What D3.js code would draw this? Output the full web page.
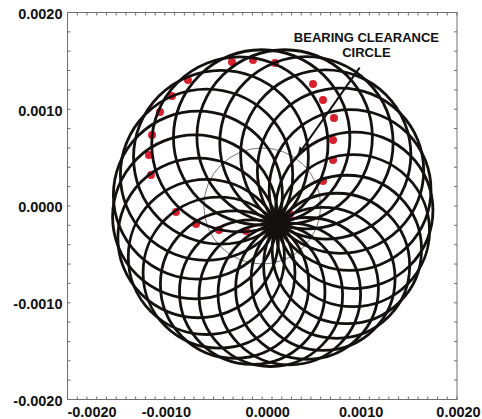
<!DOCTYPE html>
<html>
<head>
<meta charset="utf-8">
<script src="https://cdn.jsdelivr.net/npm/d3@7/dist/d3.min.js"></script>
<style>
  html, body { margin: 0; padding: 0; background: #fff; }
  svg { display: block; }
  .lbl { font-family: "Liberation Sans", Arial, sans-serif; font-weight: bold; fill: #111; }
</style>
</head>
<body>
<div id="chart"></div>
<script>
// Axis limits and tick labels (inches)
const xDomain = [-0.002, 0.002];
const yDomain = [-0.002, 0.002];
const xTickValues = [-0.002, -0.001, 0, 0.001, 0.002];
const yTickValues = [-0.002, -0.001, 0, 0.001, 0.002];
const tickLabels = ["-0.0020", "-0.0010", "0.0000", "0.0010", "0.0020"];

// Orbit loops: centre x, centre y and radius of each whirl loop
const loopCx = [0.000932, 0.000869, 0.000764, 0.000625, 0.000460, 0.000278, 0.000088, -0.000103, -0.000284, -0.000444, -0.000574, -0.000658,
                -0.000690, -0.000661, -0.000572, -0.000424, -0.000230, -0.000006, 0.000230, 0.000454, 0.000652, 0.000804, 0.000902, 0.000945];
const loopCy = [-0.000255, -0.000449, -0.000618, -0.000753, -0.000852, -0.000910, -0.000922, -0.000890, -0.000812, -0.000689, -0.000526, -0.000330,
                -0.000112, 0.000112, 0.000324, 0.000504, 0.000637, 0.000709, 0.000714, 0.000653, 0.000532, 0.000365, 0.000166, -0.000045];
const loopR  = [0.000786, 0.000767, 0.000750, 0.000739, 0.000733, 0.000732, 0.000737, 0.000747, 0.000762, 0.000780, 0.000802, 0.000825,
                0.000847, 0.000868, 0.000885, 0.000898, 0.000905, 0.000906, 0.000901, 0.000890, 0.000874, 0.000854, 0.000831, 0.000808];

// Once-per-turn phase markers
const markX = [-0.001163, -0.001132, -0.001050, -0.000927, -0.000763, -0.000311, -0.000095, 0.000131, 0.000521, 0.000624,
               0.000737, 0.000727, 0.000727, 0.000624, 0.000285, -0.000167, -0.000444, -0.000680, -0.000886, -0.001143];
const markY = [0.000527, 0.000734, 0.000972, 0.001137, 0.001302, 0.001488, 0.001509, 0.001478, 0.001261, 0.001096,
               0.000910, 0.000682, 0.000475, 0.000258, -0.000083, -0.000258, -0.000248, -0.000186, -0.000062, 0.000320];

// Bearing clearance circle
const clearanceCenter = [0, 0];
const clearanceRadius = 0.0006;

// Annotation
const noteLines = ["BEARING CLEARANCE", "CIRCLE"];
const noteAnchor = [0.00107, 0.00169];
const arrowFrom = [0.00100, 0.00143];
const arrowTo = [0.000367, 0.000527];

const W = 482, H = 419;
const margin = { left: 67.5, right: 25, top: 12.5, bottom: 19.5 };

const svg = d3.select("#chart").append("svg").attr("width", W).attr("height", H);

const x = d3.scaleLinear().domain(xDomain).range([margin.left, W - margin.right]);
const y = d3.scaleLinear().domain(yDomain).range([H - margin.bottom, margin.top]);

const x0 = margin.left, x1 = W - margin.right, y0 = H - margin.bottom, y1 = margin.top;

// Frame with minor ticks pointing inward
const axisColor = "#6f6f6f";
const frame = svg.append("g");
frame.append("rect").attr("x", x0).attr("y", y1).attr("width", x1 - x0).attr("height", y0 - y1)
  .attr("fill", "none").attr("stroke", axisColor).attr("stroke-width", 1);

const xMinor = d3.range(-20, 21).map(i => i * 0.0001);
const yMinor = d3.range(-10, 11).map(i => i * 0.0002);
frame.selectAll(".xb").data(xMinor).join("line")
  .attr("x1", d => x(d)).attr("x2", d => x(d)).attr("y1", y0).attr("y2", y0 - 3)
  .attr("stroke", axisColor).attr("stroke-width", 1);
frame.selectAll(".xt").data(xMinor).join("line")
  .attr("x1", d => x(d)).attr("x2", d => x(d)).attr("y1", y1).attr("y2", y1 + 3)
  .attr("stroke", axisColor).attr("stroke-width", 1);
frame.selectAll(".yl").data(yMinor).join("line")
  .attr("x1", x0).attr("x2", x0 + 3).attr("y1", d => y(d)).attr("y2", d => y(d))
  .attr("stroke", axisColor).attr("stroke-width", 1);
frame.selectAll(".yr").data(yMinor).join("line")
  .attr("x1", x1).attr("x2", x1 - 3).attr("y1", d => y(d)).attr("y2", d => y(d))
  .attr("stroke", axisColor).attr("stroke-width", 1);

// Tick labels through d3 axes
const fmt = d => tickLabels[xTickValues.indexOf(d)];
const xAxis = svg.append("g").attr("transform", `translate(0,${y0})`)
  .call(d3.axisBottom(x).tickValues(xTickValues).tickFormat(fmt).tickSize(0).tickPadding(7));
xAxis.select(".domain").remove();
xAxis.selectAll("text").attr("class", "lbl").style("font-size", "14.5px")
  .attr("dx", (d, i) => i === 0 ? 24 : (i === 2 ? 5 : 1));

const yAxis = svg.append("g").attr("transform", `translate(${x0},0)`)
  .call(d3.axisLeft(y).tickValues(yTickValues).tickFormat(d => tickLabels[yTickValues.indexOf(d)]).tickSize(0).tickPadding(5));
yAxis.select(".domain").remove();
yAxis.selectAll("text").attr("class", "lbl").style("font-size", "14.5px").attr("dy", "0.4em");

// Plot contents
const plot = svg.append("g");

// Clearance circle
plot.append("ellipse")
  .attr("cx", x(clearanceCenter[0])).attr("cy", y(clearanceCenter[1]))
  .attr("rx", x(clearanceRadius) - x(0)).attr("ry", y(0) - y(clearanceRadius))
  .attr("fill", "none").attr("stroke", "#666").attr("stroke-width", 0.9);

// Phase markers beneath the orbit trace
plot.selectAll(".mark").data(markX.map((d, i) => [d, markY[i]])).join("circle")
  .attr("cx", d => x(d[0])).attr("cy", d => y(d[1])).attr("r", 4)
  .attr("fill", "#d8202e");

// Orbit loops
const loops = loopCx.map((d, i) => ({ cx: d, cy: loopCy[i], r: loopR[i] }));
plot.selectAll(".loop").data(loops).join("ellipse")
  .attr("cx", d => x(d.cx)).attr("cy", d => y(d.cy))
  .attr("rx", d => x(d.r) - x(0)).attr("ry", d => y(0) - y(d.r))
  .attr("fill", "none").attr("stroke", "#151010").attr("stroke-width", 2.8);

// Annotation with arrow
svg.append("defs").append("marker")
  .attr("id", "arrowhead").attr("viewBox", "0 0 10 10").attr("refX", 9).attr("refY", 5)
  .attr("markerWidth", 9).attr("markerHeight", 9).attr("markerUnits", "userSpaceOnUse").attr("orient", "auto")
  .append("path").attr("d", "M0,1 L10,5 L0,9 Z").attr("fill", "#111");

plot.append("line")
  .attr("x1", x(arrowFrom[0])).attr("y1", y(arrowFrom[1]))
  .attr("x2", x(arrowTo[0])).attr("y2", y(arrowTo[1]))
  .attr("stroke", "#111").attr("stroke-width", 2).attr("marker-end", "url(#arrowhead)");

const note = svg.append("text").attr("class", "lbl").style("font-size", "13px")
  .attr("text-anchor", "middle").attr("x", x(noteAnchor[0])).attr("y", y(noteAnchor[1]));
noteLines.forEach((t, i) => note.append("tspan").attr("x", x(noteAnchor[0])).attr("dy", i === 0 ? 0 : 15).text(t));
</script>
</body>
</html>
